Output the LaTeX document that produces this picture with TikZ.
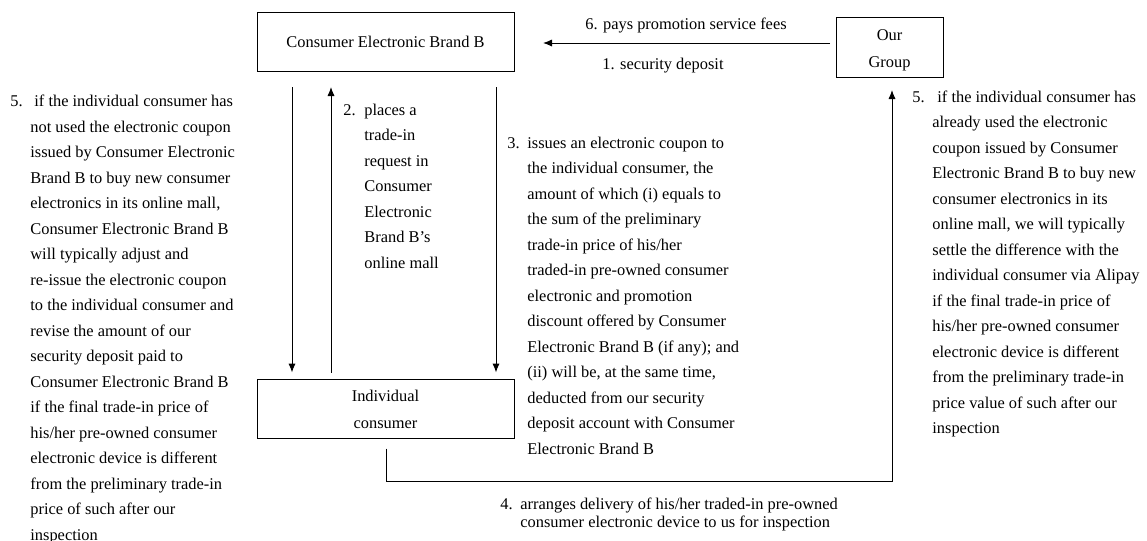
\documentclass[tikz,border=0pt]{standalone}
\usepackage{fontspec}
\setmainfont{Liberation Serif}
\usetikzlibrary{arrows.meta,calc}

\tikzset{
  box/.style={draw=black, line width=0.5pt, inner sep=0pt, align=center,
              font=\fontsize{8.2pt}{12.75pt}\selectfont},
  arr/.style={draw=black, line width=0.5pt, -{Latex[length=4.5pt,width=3.6pt]}},
  para/.style={anchor=north west, inner sep=0pt, align=left,
               font=\fontsize{8.2pt}{12.75pt}\selectfont},
  lbl/.style={inner sep=0pt, font=\fontsize{8.2pt}{12.75pt}\selectfont}
}

\begin{document}
\begin{tikzpicture}[x=0.5pt, y=-0.5pt]
\useasboundingbox (0,0) rectangle (1147,541);

% parties
\node[box, minimum width=128.5pt, minimum height=29.5pt] (bb) at (385.5,41.5)
  {Consumer Electronic Brand B};
\node[box, minimum width=53.5pt, minimum height=30pt,
      font=\fontsize{8.2pt}{13.5pt}\selectfont] (og) at (889.5,47)
  {\rule{0pt}{8.6pt}Our\\Group};
\node[box, minimum width=128.5pt, minimum height=29.5pt,
      font=\fontsize{8.2pt}{13.5pt}\selectfont] (ic) at (385.5,408.5)
  {\rule{0pt}{6.6pt}Individual\\consumer};

% ends of the free-standing connectors
\coordinate (t1) at (292,87);
\coordinate (t2) at (331,87);
\coordinate (t3) at (496,87);
\coordinate (p6s) at (830,43);
\coordinate (p6e) at (543,43);
\coordinate (p4a) at ($(ic.south)+(0.5,10)$);
\coordinate (p4c) at (892,481);
\coordinate (p4e) at (892,90);

% flows between Brand B and the consumer
\draw[arr, shorten >=3pt] (t1) -- (t1 |- ic.north);
\draw[arr, shorten <=3pt] (t2 |- ic.north) -- (t2);
\draw[arr, shorten >=3pt] (t3) -- (t3 |- ic.north);

% payments from the group to Brand B
\draw[arr] (p6s) -- (p6e);
\node[lbl] (l6) at (686,25.5) {6. pays promotion service fees};
\node[lbl] (l1) at (663,66) {1. security deposit};

% device delivery to the group
\draw[arr] (p4a) |- (p4c) -- (p4e);

% step descriptions
\node[para] (s5l) at (30,88.5) {\strut\llap{5.\hspace{3.85pt}}\hspace{2pt}if the individual consumer has\\
not used the electronic coupon\\
issued by Consumer Electronic\\
Brand B to buy new consumer\\
electronics in its online mall,\\
Consumer Electronic Brand B\\
will typically adjust and\\
re-issue the electronic coupon\\
to the individual consumer and\\
revise the amount of our\\
security deposit paid to\\
Consumer Electronic Brand B\\
if the final trade-in price of\\
his/her pre-owned consumer\\
electronic device is different\\
from the preliminary trade-in\\
price of such after our\\
inspection};

\node[para] (s2) at (364,97) {\strut\llap{2.\hspace{4.35pt}}places a\\
trade-in\\
request in\\
Consumer\\
Electronic\\
Brand B’s\\
online mall};

\node[para] (s3) at (527,130) {\strut\llap{3.\hspace{3.85pt}}issues an electronic coupon to\\
the individual consumer, the\\
amount of which (i) equals to\\
the sum of the preliminary\\
trade-in price of his/her\\
traded-in pre-owned consumer\\
electronic and promotion\\
discount offered by Consumer\\
Electronic Brand B (if any); and\\
(ii) will be, at the same time,\\
deducted from our security\\
deposit account with Consumer\\
Electronic Brand B};

\node[para] (s5r) at (932,84) {\strut\llap{5.\hspace{3.85pt}}\hspace{2.5pt}if the individual consumer has\\
already used the electronic\\
coupon issued by Consumer\\
Electronic Brand B to buy new\\
consumer electronics in its\\
online mall, we will typically\\
settle the difference with the\\
individual consumer via Alipay\\
if the final trade-in price of\\
his/her pre-owned consumer\\
electronic device is different\\
from the preliminary trade-in\\
price value of such after our\\
inspection};

\node[para, font=\fontsize{8.2pt}{8pt}\selectfont] (s4) at (520,497.5)
  {\strut\llap{4.\hspace{3.85pt}}arranges delivery of his/her traded-in pre-owned\\
consumer electronic device to us for inspection};
\end{tikzpicture}
\end{document}
